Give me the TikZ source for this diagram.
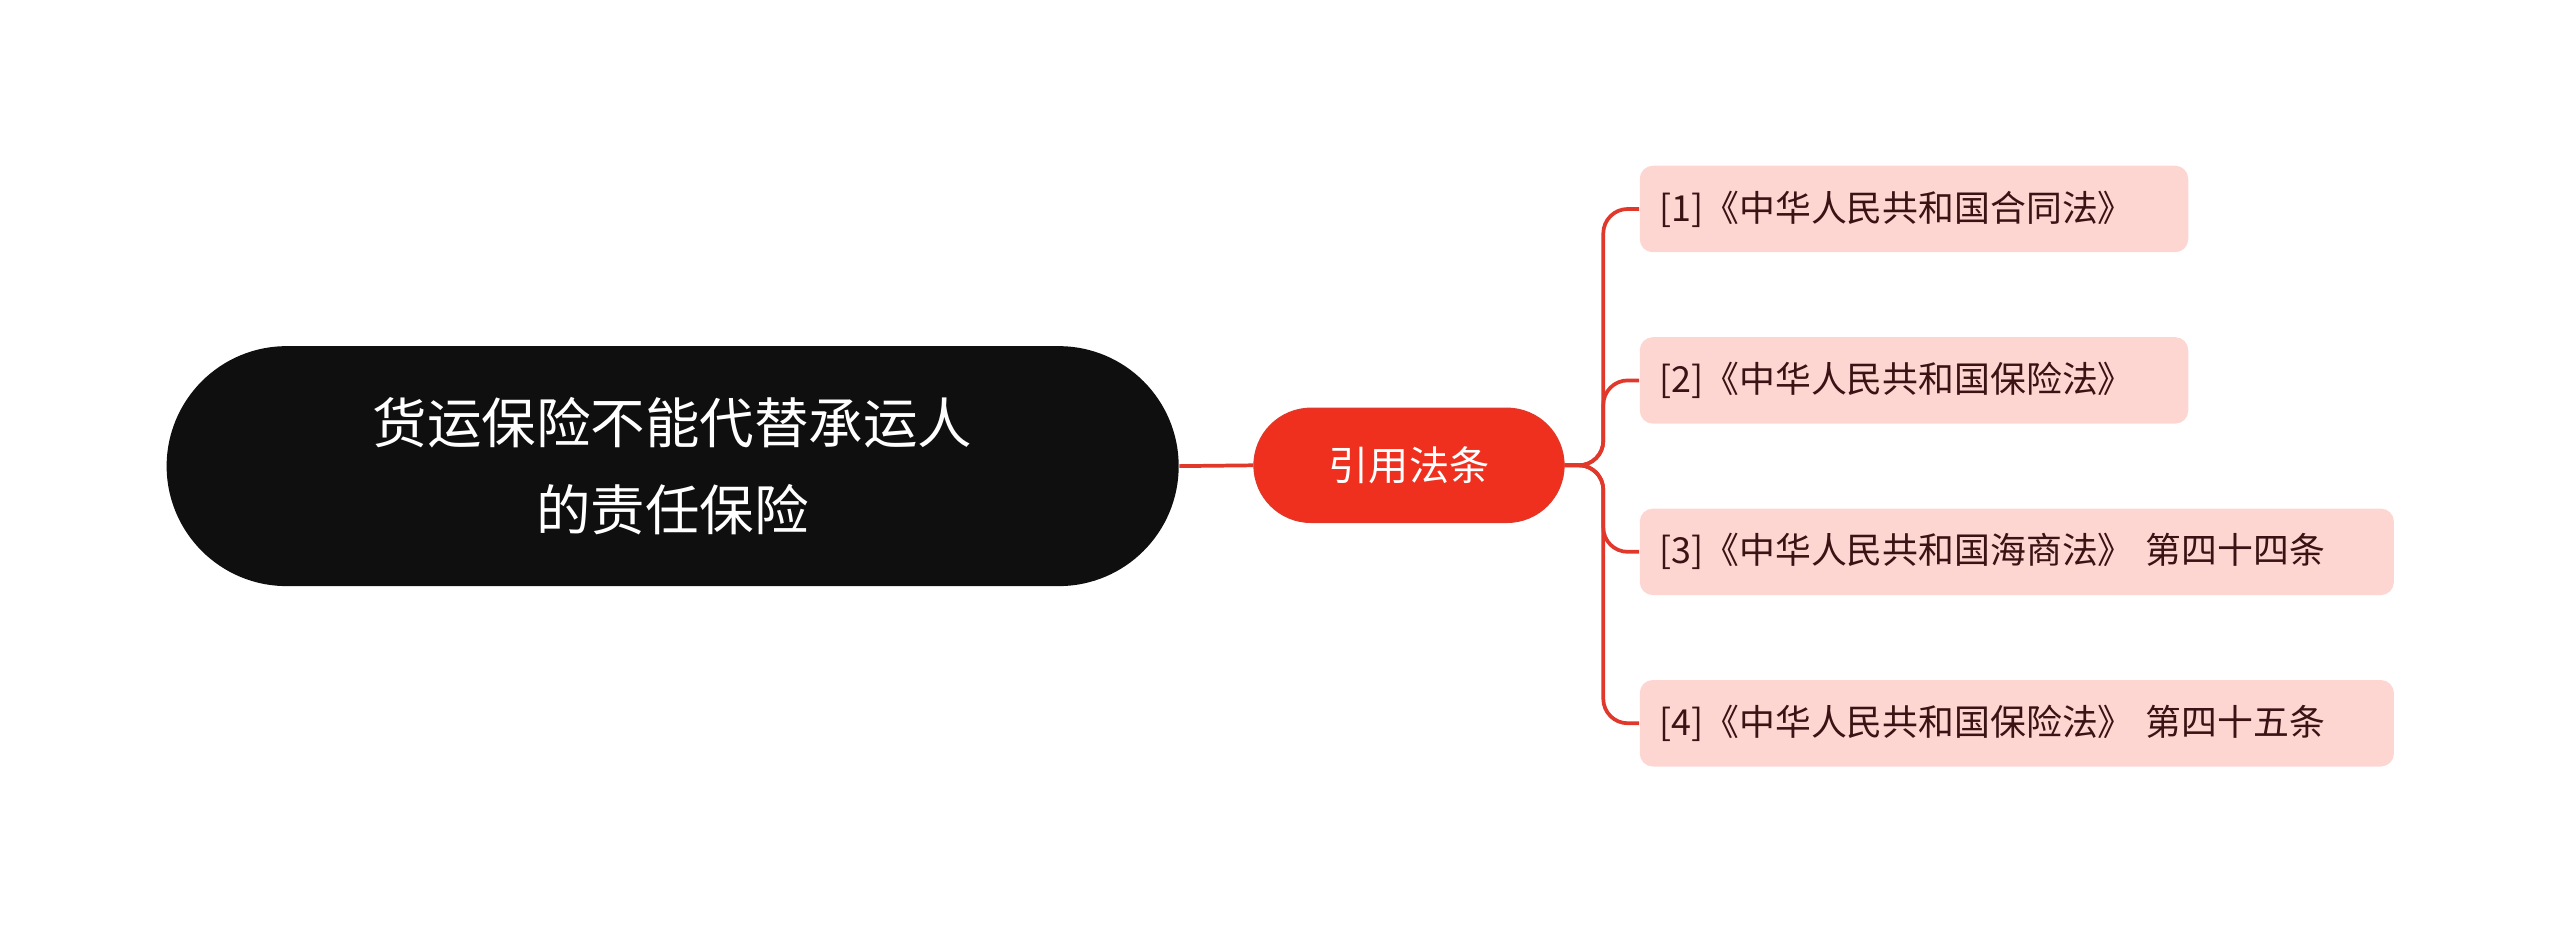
\documentclass[tikz,border=0pt]{standalone}
\usepackage{fontspec}
\setmainfont{Noto Sans CJK SC}
\definecolor{rootc}{HTML}{0F0F0F}
\definecolor{midc}{HTML}{F0301E}
\definecolor{leafc}{HTML}{FDD6D2}
\definecolor{leaft}{HTML}{3A1414}
\definecolor{linec}{HTML}{E0382A}
\tikzset{
 rootbox/.style={fill=rootc,text=white,rounded corners=1.47cm,minimum width=12.4cm,minimum height=2.94cm,align=center,font=\fontsize{19}{30}\selectfont},
 midbox/.style={fill=midc,draw=linec,text=white,rounded corners=0.7cm,minimum width=3.8cm,minimum height=1.4cm,font=\fontsize{14}{16}\selectfont},
 leafbox/.style={fill=leafc,text=leaft,rounded corners=0.16cm,minimum height=1.06cm,inner xsep=0.24cm,align=left,anchor=west,font=\fontsize{12.5}{14}\selectfont},
 conn/.style={draw=linec,line width=1.3pt,rounded corners=0.3cm}
}
\begin{document}
\begin{tikzpicture}[x=0.02cm,y=-0.02cm]
\useasboundingbox (0,0) rectangle (1568,571);
\node[rootbox] (root) at (412,285.5) {货运保险不能代替承运人\\的责任保险};
\node[midbox] (mid) at (863,285) {引用法条};
\node[leafbox,text width=6.24cm] (l1) at (1004,128) {[1]《中华人民共和国合同法》};
\node[leafbox,text width=6.24cm] (l2) at (1004,233) {[2]《中华人民共和国保险法》};
\node[leafbox,text width=8.76cm] (l3) at (1004,338) {[3]《中华人民共和国海商法》 第四十四条};
\node[leafbox,text width=8.76cm] (l4) at (1004,443) {[4]《中华人民共和国保险法》 第四十五条};
\draw[conn] (root.east) -- (mid.west);
\foreach \n in {l1,l2,l3,l4}{
 \draw[conn] (mid.east) -- (982,285) -- (982,285 |- \n.west) -- (\n.west);
}
\end{tikzpicture}
\end{document}
